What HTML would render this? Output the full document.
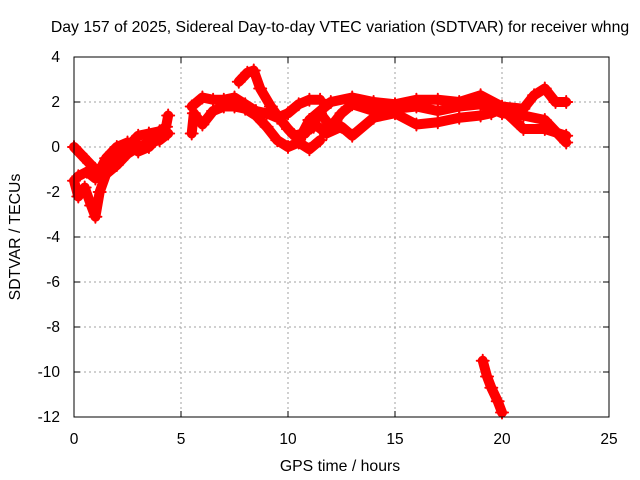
<!DOCTYPE html>
<html><head><meta charset="utf-8"><style>
body{margin:0;background:#fff}
svg{display:block;font-family:"Liberation Sans",sans-serif}
</style></head><body>
<svg width="640" height="480" viewBox="0 0 640 480">
<rect width="640" height="480" fill="#fff"/>
<text x="340" y="32" font-size="15.8" text-anchor="middle">Day 157 of 2025, Sidereal Day-to-day VTEC variation (SDTVAR) for receiver whng</text>
<g id="grid"></g>
<g id="axes"></g>
<g id="series" fill="none" stroke="#ff0000" stroke-linejoin="round" stroke-linecap="round"></g>
<rect x="74" y="57" width="535" height="360" fill="none" stroke="#000" stroke-width="1"/>
<text x="340" y="471" font-size="15.8" text-anchor="middle">GPS time / hours</text>
<text transform="translate(20,237) rotate(-90)" font-size="15.8" text-anchor="middle">SDTVAR / TECUs</text>
</svg>
<script>
const xTicks=[0,5,10,15,20,25];
const yTicks=[4,2,0,-2,-4,-6,-8,-10,-12];
const trackA1=[[0,0],[0.3,-0.3],[0.7,-0.7],[1,-1],[1.5,-0.9],[2,-0.3],[2.5,0],[3,0.5],[3.5,0.6],[4,0.7],[4.3,0.9],[4.4,1.4]];
const trackA2=[[0,-1.5],[0.2,-2.2],[0.5,-1.8],[0.8,-2.6],[1,-3.1],[1.2,-2],[1.5,-1.2],[2,-0.8],[2.5,-0.3],[3,0],[3.5,0.2],[4,0.3],[4.4,0.6]];
const trackA3=[[0.2,-1.3],[0.6,-1.1],[1,-1.4],[1.5,-0.5],[2,0],[2.5,0.2],[3,-0.2],[3.5,0],[4,0.5]];
const trackB1=[[5.5,1.8],[6,2.2],[6.5,2.1],[7,2.1],[7.5,2.2],[8,1.9],[8.5,1.6],[9,1.5],[9.5,1.3],[10,1.5],[10.5,1.9],[11,2.1],[11.5,2.1]];
const trackB2=[[7.7,2.9],[8.1,3.3],[8.4,3.4],[8.7,2.6],[9.2,1.8],[9.5,1.4],[10,0.8],[10.3,0.5],[10.7,0.6],[11.2,0.9]];
const trackB3=[[5.5,0.6],[5.6,1.5],[6,1.0],[6.5,1.6],[7,1.8],[7.5,1.8],[8,1.7],[8.5,1.4],[9,0.9],[9.5,0.3],[10,0],[10.5,0.2],[11,-0.1],[11.5,0.3]];
const trackC1=[[11,1.2],[12,2],[13,2.2],[14,2],[15,1.9],[16,2.1],[17,2.1],[18,2],[19,2.3],[20,1.8],[21,1.7],[21.5,2.3],[22,2.6],[22.5,2],[23,2]];
const trackC2=[[10.8,0.6],[11.5,1.5],[12,0.9],[12.5,1.5],[13,1.9],[14,1.6],[15,1.7],[16,1.8],[17,1.6],[18,1.8],[19,1.9],[20,1.5],[21,1.4],[22,1.2],[23,0.2]];
const trackC3=[[10.5,0.3],[11,1.2],[11.8,0.6],[12.5,0.9],[13,0.5],[14,1.3],[15,1.5],[16,1.0],[17,1.1],[18,1.3],[19,1.4],[19.5,1.5],[20,1.7],[21,0.8],[22,0.8],[23,0.5]];
const trackD=[[19.1,-9.5],[19.3,-10.2],[19.5,-10.7],[19.8,-11.3],[20,-11.8]];
const tracks=[trackA1,trackA2,trackA3,trackB1,trackB2,trackB3,trackC1,trackC2,trackC3,trackD];

const L=74,R=609,T=57,B=417;
const xs=v=>L+(v-0)/25*(R-L);
const ys=v=>T+(4-v)/16*(B-T);
const NS="http://www.w3.org/2000/svg";
function mk(tag,attrs,parent){const e=document.createElementNS(NS,tag);for(const k in attrs)e.setAttribute(k,attrs[k]);parent.appendChild(e);return e;}
const grid=document.getElementById('grid'),axes=document.getElementById('axes'),ser=document.getElementById('series');
xTicks.forEach(t=>{
  const x=xs(t);
  if(t>0&&t<25){const g=mk('line',{x1:x,x2:x,y1:T,y2:B,stroke:'#a0a0a0','stroke-dasharray':'2,3'},grid);
  
  }
  const tk=mk('line',{x1:x,x2:x,y1:B,y2:B-6,stroke:'#000'},axes);
  
  
  const tk2=mk('line',{x1:x,x2:x,y1:T,y2:T+6,stroke:'#000'},axes);
  
  
  const lb=mk('text',{x:x,y:B+27,'font-size':15.5,'text-anchor':'middle'},axes);lb.textContent=t;
  
  
});
yTicks.forEach(t=>{
  const y=ys(t);
  if(t<4&&t>-12){const g=mk('line',{x1:L,x2:R,y1:y,y2:y,stroke:'#a0a0a0','stroke-dasharray':'2,3'},grid);
  
  }
  const tk=mk('line',{x1:L,x2:L+6,y1:y,y2:y,stroke:'#000'},axes);
  
  
  const tk2=mk('line',{x1:R,x2:R-6,y1:y,y2:y,stroke:'#000'},axes);
  
  
  const lb=mk('text',{x:L-14,y:y+5,'font-size':15.5,'text-anchor':'end'},axes);lb.textContent=t;
  
  
});
tracks.forEach((tr,i)=>{
  const pl=mk('polyline',{points:tr.map(p=>xs(p[0])+','+ys(p[1])).join(' '),'stroke-width':10},ser);
  
  
  tr.forEach(p=>{
    const x=xs(p[0]),y=ys(p[1]);
    const m=mk('path',{d:`M${x-6},${y}H${x+6}M${x},${y-6}V${y+6}`,'stroke-width':2},ser);
    
    
  });
});
</script>
</body></html>
